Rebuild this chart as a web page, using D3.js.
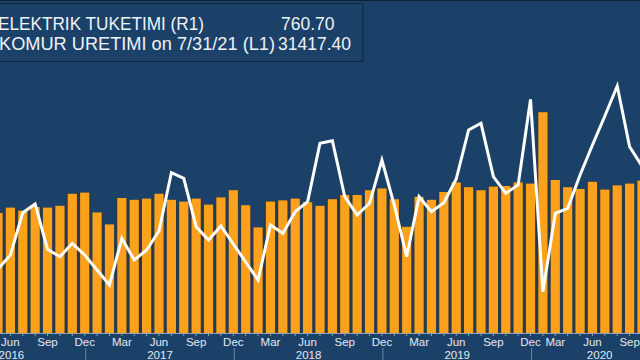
<!DOCTYPE html>
<html>
<head>
<meta charset="utf-8">
<script src="https://cdn.jsdelivr.net/npm/d3@7"></script>
<style>
  html, body { margin: 0; padding: 0; background: #1b4169; }
  svg { display: block; }
</style>
</head>
<body>
<svg id="chart" width="640" height="360"></svg>
<script>
// ---- data ----
// one month (Jan 2020) is absent in the source, so Feb 2020 follows Dec 2019
const months = [
  "2016-05","2016-06","2016-07","2016-08","2016-09","2016-10","2016-11","2016-12",
  "2017-01","2017-02","2017-03","2017-04","2017-05","2017-06","2017-07","2017-08","2017-09","2017-10","2017-11","2017-12",
  "2018-01","2018-02","2018-03","2018-04","2018-05","2018-06","2018-07","2018-08","2018-09","2018-10","2018-11","2018-12",
  "2019-01","2019-02","2019-03","2019-04","2019-05","2019-06","2019-07","2019-08","2019-09","2019-10","2019-11","2019-12",
  "2020-02","2020-03","2020-04","2020-05","2020-06","2020-07","2020-08","2020-09","2020-10"
];
// ELEKTRIK TUKETIMI (R1) - bars
const elektrik = [
  700, 709, 704, 710, 709, 712, 732, 734,
  701, 681, 725, 722, 724, 732, 722, 719, 724, 714, 726, 738,
  713, 676, 719, 721, 724, 718, 712, 723, 730, 730, 738, 741,
  723, 677, 727, 722, 735, 751, 743, 738, 744, 745, 751, 749,
  868, 755, 743, 740, 752, 739, 746, 749, 754
];
// KOMUR URETIMI (L1) - line
const komur = [
  12800, 15600, 24060, 25800, 16740, 15260, 17940, 15600,
  12600, 9600, 18940, 14600, 16600, 20400, 32060, 30940, 21260, 18600, 21400, 17800,
  14200, 10600, 21600, 19940, 24260, 26260, 37940, 38460, 27260, 23600, 25940, 34600,
  25600, 15260, 27260, 24260, 26060, 30800, 40600, 41940, 31260, 27940, 29600, 46740,
  8260, 23940, 24940, 31600, 37600, 43400, 49400, 37260, 33400
];
const monthTicks = ["2016-06","2016-09","2016-12","2017-03","2017-06","2017-09","2017-12",
  "2018-03","2018-06","2018-09","2018-12","2019-03","2019-06","2019-09","2019-12",
  "2020-03","2020-06","2020-09"];
const monthNames = ["Jan","Feb","Mar","Apr","May","Jun","Jul","Aug","Sep","Oct","Nov","Dec"];
const years = ["2016","2017","2018","2019","2020"];
const legendRows = [
  {label: "ELEKTRIK TUKETIMI (R1)", value: "760.70"},
  {label: "KOMUR URETIMI on 7/31/21 (L1)", value: "31417.40"}
];

// ---- layout ----
const W = 640, H = 360;
const baseY = 333;
const svg = d3.select("#chart");

const x = d3.scaleLinear().domain([-1, 51]).range([-2, 642]);
const idx = months.map((m, i) => i);
const xc = i => x(i - 1);
const pitch = x(1) - x(0);

const yR = d3.scaleLinear().domain([500, 1000]).range([baseY, 33]);
const yL = d3.scaleLinear().domain([0, 60000]).range([baseY, 33]);

svg.append("rect").attr("width", W).attr("height", H).attr("fill", "#1b4169");

// bars: dark outline block then orange body
const bars = svg.append("g");
bars.selectAll("rect.bg").data(elektrik).join("rect")
  .attr("class", "bg")
  .attr("x", (d, i) => xc(i) - pitch / 2)
  .attr("width", pitch)
  .attr("y", d => yR(d))
  .attr("height", d => baseY - yR(d))
  .attr("fill", "#2a3a4a");
bars.selectAll("rect.fg").data(elektrik).join("rect")
  .attr("class", "fg")
  .attr("x", (d, i) => xc(i) - pitch / 2 + 1.6)
  .attr("width", pitch - 3.2)
  .attr("y", d => yR(d))
  .attr("height", d => baseY - yR(d))
  .attr("fill", "#fba11b");

// line
const line = d3.line().x((d, i) => xc(i)).y(d => yL(d));
svg.append("path").datum(komur)
  .attr("d", line)
  .attr("fill", "none")
  .attr("stroke", "#ffffff")
  .attr("stroke-width", 3)
  .attr("stroke-linejoin", "miter");

// x axis
const axis = svg.append("g");
axis.append("line").attr("x1", 0).attr("x2", W).attr("y1", baseY + 0.5).attr("y2", baseY + 0.5)
  .attr("stroke", "#8fa2b6").attr("stroke-width", 1);
axis.selectAll("line.tick").data(idx).join("line").attr("class", "tick")
  .attr("x1", i => xc(i)).attr("x2", i => xc(i))
  .attr("y1", baseY).attr("y2", baseY + 3)
  .attr("stroke", "#8fa2b6");
axis.selectAll("text.month").data(monthTicks).join("text").attr("class", "month")
  .attr("x", m => xc(months.indexOf(m)))
  .attr("y", 345.5)
  .attr("text-anchor", "middle")
  .attr("font-family", "Liberation Sans, Arial, sans-serif")
  .attr("font-size", 11.5)
  .attr("fill", "#e3e9f0")
  .text(m => monthNames[+m.slice(5) - 1]);

// year dividers at Dec positions (extrapolated when outside the data)
function decIndex(y) {
  const k = months.indexOf(y + "-12");
  if (k >= 0) return k;
  const firstNext = months.findIndex(m => m.startsWith(String(+y + 1)));
  if (firstNext >= 0) return firstNext - (+months[firstNext].slice(5));
  const lastIdx = months.length - 1;
  return lastIdx + (12 - +months[lastIdx].slice(5));
}
const yearInfo = years.map(y => ({y, a: decIndex(String(+y - 1)), b: decIndex(y)}));
axis.selectAll("line.div").data(yearInfo).join("line").attr("class", "div")
  .attr("x1", d => xc(d.b) + 1).attr("x2", d => xc(d.b) + 1)
  .attr("y1", 348).attr("y2", 360)
  .attr("stroke", "#6f869d");
axis.selectAll("text.year").data(yearInfo).join("text").attr("class", "year")
  .attr("x", d => (xc(d.a) + xc(d.b)) / 2 + 1)
  .attr("y", 359)
  .attr("text-anchor", "middle")
  .attr("font-family", "Liberation Sans, Arial, sans-serif")
  .attr("font-size", 11.5)
  .attr("fill", "#e3e9f0")
  .text(d => d.y);

// top border
svg.append("line").attr("x1", 0).attr("x2", W).attr("y1", 0.5).attr("y2", 0.5)
  .attr("stroke", "#0e2236").attr("stroke-width", 1);

// legend
const lg = svg.append("g");
lg.append("rect").attr("x", -2).attr("y", 3.5).attr("width", 365).attr("height", 58)
  .attr("fill", "#1b4169").attr("stroke", "#0f2740").attr("stroke-width", 1);
const labelWidths = [206, 276];
lg.selectAll("text.lab").data(legendRows).join("text").attr("class", "lab")
  .attr("x", (d, i) => i === 0 ? -2 : -1)
  .attr("y", (d, i) => 30 + i * 20)
  .attr("font-family", "Liberation Sans, Arial, sans-serif")
  .attr("font-size", 17.5)
  .attr("fill", "#eef2f6")
  .attr("textLength", (d, i) => labelWidths[i])
  .attr("lengthAdjust", "spacingAndGlyphs")
  .text(d => d.label);
lg.selectAll("text.val").data(legendRows).join("text").attr("class", "val")
  .attr("x", (d, i) => i === 0 ? 281 : 278)
  .attr("y", (d, i) => 30 + i * 20)
  .attr("font-family", "Liberation Sans, Arial, sans-serif")
  .attr("font-size", 17.5)
  .attr("fill", "#eef2f6")
  .text(d => d.value);
</script>
</body>
</html>
